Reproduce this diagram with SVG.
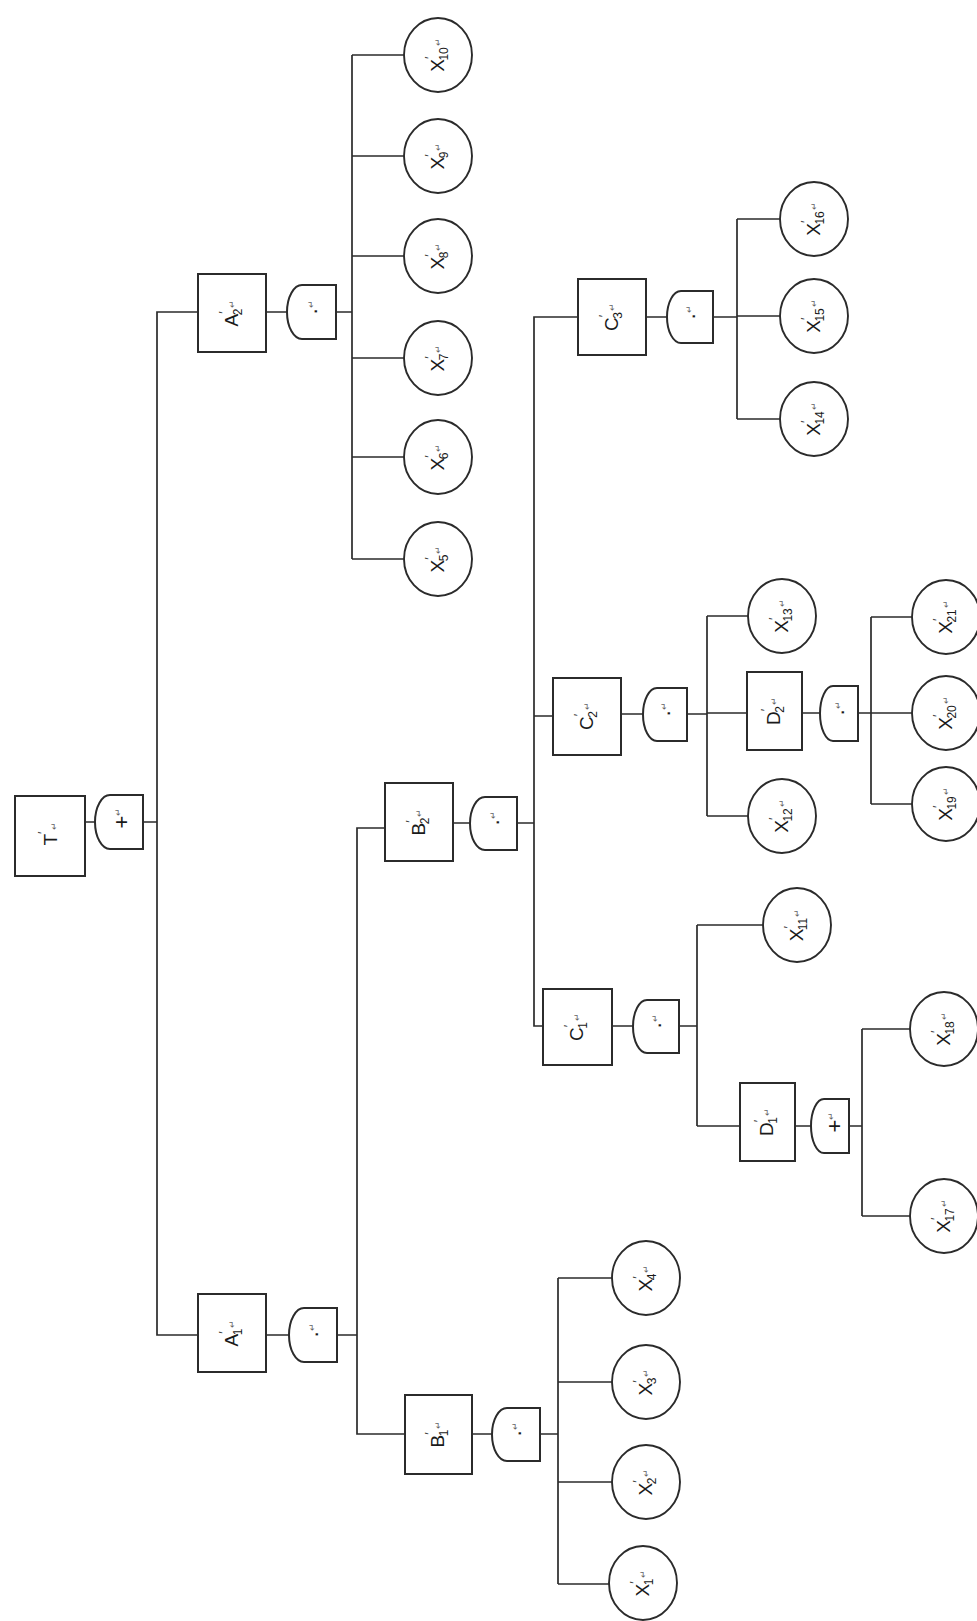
<svg xmlns="http://www.w3.org/2000/svg" width="977" height="1621" viewBox="0 0 977 1621">
<style>
.bg{fill:#ffffff}
.box{fill:#ffffff;stroke:#2b2b2b;stroke-width:2}
.gate{fill:#ffffff;stroke:#2b2b2b;stroke-width:2}
.ev{fill:#ffffff;stroke:#2b2b2b;stroke-width:1.9}
.cn{fill:none;stroke:#2b2b2b;stroke-width:1.7}
.lb{font-family:"Liberation Sans",Arial,sans-serif;font-size:19px;fill:#1a1a1a}
.pr{font-size:13px;fill:#444444}
.sb{font-size:12px}
.rt{font-size:9px;fill:#666666}
.gs{font-family:"Liberation Sans",Arial,sans-serif;font-size:22px;fill:#1a1a1a}
</style>
<rect class="bg" x="0" y="0" width="977" height="1621"/>
<g id="connectors">
<path class="cn" d="M85 822H95M143 822H157"/>
<path class="cn" d="M198 312H157V1335H198"/>
<path class="cn" d="M266 312H287M336 312H352"/>
<path class="cn" d="M352 55V559M352 55H404M352 156H404M352 256H404M352 358H404M352 457H404M352 559H404"/>
<path class="cn" d="M266 1335H289M337 1335H357"/>
<path class="cn" d="M385 828H357V1434H405"/>
<path class="cn" d="M453 823H470M517 823H534"/>
<path class="cn" d="M578 317H534V1026H543M534 716H553"/>
<path class="cn" d="M646 317H667M713 317H737M737 219V419M737 219H780M737 316H780M737 419H780"/>
<path class="cn" d="M621 714H643M687 714H707M707 616V816M707 616H748M707 816H748M707 713H747"/>
<path class="cn" d="M802 713H820M858 713H871M871 617V804M871 617H912M871 713H912M871 804H912"/>
<path class="cn" d="M612 1026H633M679 1026H697M697 925V1126M697 925H763M697 1126H740"/>
<path class="cn" d="M795 1126H811M849 1126H862M862 1029V1216M862 1029H910M862 1216H910"/>
<path class="cn" d="M472 1434H492M540 1434H558M558 1278V1584M558 1278H612M558 1382H612M558 1482H612M558 1584H609"/>
</g>
<g id="T"><rect class="box" x="15" y="796" width="70" height="80"/><text class="lb" text-anchor="middle" transform="translate(50,834) rotate(-90)" y="7">T<tspan class="pr" dy="-10">′</tspan><tspan class="rt" dx="1" dy="10">↵</tspan></text></g>
<g id="G_T"><path class="gate" d="M143 795H110A15 27 0 0 0 110 849H143Z"/><text class="gs" transform="translate(121,822) rotate(-90)" x="-6.5" y="7.5">+<tspan class="rt" dy="-8">↵</tspan></text></g>
<g id="A2"><rect class="box" x="198" y="274" width="68" height="78"/><text class="lb" text-anchor="middle" transform="translate(232,313) rotate(-90)" y="6">A<tspan class="pr" dy="-10">′</tspan><tspan class="sb" dx="-4" dy="14">2</tspan><tspan class="rt" dx="1" dy="-7">↵</tspan></text></g>
<g id="G_A2"><path class="gate" d="M336 285H302A15 27 0 0 0 302 339H336Z"/><text class="gs" transform="translate(314,312) rotate(-90)" x="-3" y="7.5">·<tspan class="rt" dy="-8">↵</tspan></text></g>
<g id="A1"><rect class="box" x="198" y="1294" width="68" height="78"/><text class="lb" text-anchor="middle" transform="translate(232,1333) rotate(-90)" y="6">A<tspan class="pr" dy="-10">′</tspan><tspan class="sb" dx="-4" dy="14">1</tspan><tspan class="rt" dx="1" dy="-7">↵</tspan></text></g>
<g id="G_A1"><path class="gate" d="M337 1308H304A15 27 0 0 0 304 1362H337Z"/><text class="gs" transform="translate(315,1335) rotate(-90)" x="-3" y="7.5">·<tspan class="rt" dy="-8">↵</tspan></text></g>
<g id="B2"><rect class="box" x="385" y="783" width="68" height="78"/><text class="lb" text-anchor="middle" transform="translate(419,822) rotate(-90)" y="6">B<tspan class="pr" dy="-10">′</tspan><tspan class="sb" dx="-4" dy="14">2</tspan><tspan class="rt" dx="1" dy="-7">↵</tspan></text></g>
<g id="G_B2"><path class="gate" d="M517 797H485A15 26.5 0 0 0 485 850H517Z"/><text class="gs" transform="translate(496,823) rotate(-90)" x="-3" y="7.5">·<tspan class="rt" dy="-8">↵</tspan></text></g>
<g id="B1"><rect class="box" x="405" y="1395" width="67" height="79"/><text class="lb" text-anchor="middle" transform="translate(438,1434) rotate(-90)" y="6">B<tspan class="pr" dy="-10">′</tspan><tspan class="sb" dx="-4" dy="14">1</tspan><tspan class="rt" dx="1" dy="-7">↵</tspan></text></g>
<g id="G_B1"><path class="gate" d="M540 1408H507A15 26.5 0 0 0 507 1461H540Z"/><text class="gs" transform="translate(518,1434) rotate(-90)" x="-3" y="7.5">·<tspan class="rt" dy="-8">↵</tspan></text></g>
<g id="C3"><rect class="box" x="578" y="279" width="68" height="76"/><text class="lb" text-anchor="middle" transform="translate(612,317) rotate(-90)" y="6">C<tspan class="pr" dy="-10">′</tspan><tspan class="sb" dx="-4" dy="14">3</tspan><tspan class="rt" dx="1" dy="-7">↵</tspan></text></g>
<g id="G_C3"><path class="gate" d="M713 291H681A14 26 0 0 0 681 343H713Z"/><text class="gs" transform="translate(692,317) rotate(-90)" x="-3" y="7.5">·<tspan class="rt" dy="-8">↵</tspan></text></g>
<g id="C2"><rect class="box" x="553" y="678" width="68" height="77"/><text class="lb" text-anchor="middle" transform="translate(587,716) rotate(-90)" y="6">C<tspan class="pr" dy="-10">′</tspan><tspan class="sb" dx="-4" dy="14">2</tspan><tspan class="rt" dx="1" dy="-7">↵</tspan></text></g>
<g id="G_C2"><path class="gate" d="M687 688H657A14 26.5 0 0 0 657 741H687Z"/><text class="gs" transform="translate(667,714) rotate(-90)" x="-3" y="7.5">·<tspan class="rt" dy="-8">↵</tspan></text></g>
<g id="C1"><rect class="box" x="543" y="989" width="69" height="76"/><text class="lb" text-anchor="middle" transform="translate(577,1027) rotate(-90)" y="6">C<tspan class="pr" dy="-10">′</tspan><tspan class="sb" dx="-4" dy="14">1</tspan><tspan class="rt" dx="1" dy="-7">↵</tspan></text></g>
<g id="G_C1"><path class="gate" d="M679 1000H647A14 26.5 0 0 0 647 1053H679Z"/><text class="gs" transform="translate(658,1026) rotate(-90)" x="-3" y="7.5">·<tspan class="rt" dy="-8">↵</tspan></text></g>
<g id="D2"><rect class="box" x="747" y="672" width="55" height="78"/><text class="lb" text-anchor="middle" transform="translate(774,711) rotate(-90)" y="6">D<tspan class="pr" dy="-10">′</tspan><tspan class="sb" dx="-4" dy="14">2</tspan><tspan class="rt" dx="1" dy="-7">↵</tspan></text></g>
<g id="G_D2"><path class="gate" d="M858 686H833A13 27.5 0 0 0 833 741H858Z"/><text class="gs" transform="translate(841,713) rotate(-90)" x="-3" y="7.5">·<tspan class="rt" dy="-8">↵</tspan></text></g>
<g id="D1"><rect class="box" x="740" y="1083" width="55" height="78"/><text class="lb" text-anchor="middle" transform="translate(767,1122) rotate(-90)" y="6">D<tspan class="pr" dy="-10">′</tspan><tspan class="sb" dx="-4" dy="14">1</tspan><tspan class="rt" dx="1" dy="-7">↵</tspan></text></g>
<g id="G_D1"><path class="gate" d="M849 1099H824A13 27 0 0 0 824 1153H849Z"/><text class="gs" transform="translate(834,1126) rotate(-90)" x="-6.5" y="7.5">+<tspan class="rt" dy="-8">↵</tspan></text></g>
<g id="X10"><ellipse class="ev" cx="438" cy="55" rx="34" ry="37"/><text class="lb" text-anchor="middle" transform="translate(438,55) rotate(-90)" y="6">X<tspan class="pr" dy="-10">′</tspan><tspan class="sb" dx="-4" dy="14">10</tspan><tspan class="rt" dx="1" dy="-7">↵</tspan></text></g>
<g id="X9"><ellipse class="ev" cx="438" cy="156" rx="34" ry="37"/><text class="lb" text-anchor="middle" transform="translate(438,156) rotate(-90)" y="6">X<tspan class="pr" dy="-10">′</tspan><tspan class="sb" dx="-4" dy="14">9</tspan><tspan class="rt" dx="1" dy="-7">↵</tspan></text></g>
<g id="X8"><ellipse class="ev" cx="438" cy="256" rx="34" ry="37"/><text class="lb" text-anchor="middle" transform="translate(438,256) rotate(-90)" y="6">X<tspan class="pr" dy="-10">′</tspan><tspan class="sb" dx="-4" dy="14">8</tspan><tspan class="rt" dx="1" dy="-7">↵</tspan></text></g>
<g id="X7"><ellipse class="ev" cx="438" cy="358" rx="34" ry="37"/><text class="lb" text-anchor="middle" transform="translate(438,358) rotate(-90)" y="6">X<tspan class="pr" dy="-10">′</tspan><tspan class="sb" dx="-4" dy="14">7</tspan><tspan class="rt" dx="1" dy="-7">↵</tspan></text></g>
<g id="X6"><ellipse class="ev" cx="438" cy="457" rx="34" ry="37"/><text class="lb" text-anchor="middle" transform="translate(438,457) rotate(-90)" y="6">X<tspan class="pr" dy="-10">′</tspan><tspan class="sb" dx="-4" dy="14">6</tspan><tspan class="rt" dx="1" dy="-7">↵</tspan></text></g>
<g id="X5"><ellipse class="ev" cx="438" cy="559" rx="34" ry="37"/><text class="lb" text-anchor="middle" transform="translate(438,559) rotate(-90)" y="6">X<tspan class="pr" dy="-10">′</tspan><tspan class="sb" dx="-4" dy="14">5</tspan><tspan class="rt" dx="1" dy="-7">↵</tspan></text></g>
<g id="X16"><ellipse class="ev" cx="814" cy="219" rx="34" ry="37"/><text class="lb" text-anchor="middle" transform="translate(814,219) rotate(-90)" y="6">X<tspan class="pr" dy="-10">′</tspan><tspan class="sb" dx="-4" dy="14">16</tspan><tspan class="rt" dx="1" dy="-7">↵</tspan></text></g>
<g id="X15"><ellipse class="ev" cx="814" cy="316" rx="34" ry="37"/><text class="lb" text-anchor="middle" transform="translate(814,316) rotate(-90)" y="6">X<tspan class="pr" dy="-10">′</tspan><tspan class="sb" dx="-4" dy="14">15</tspan><tspan class="rt" dx="1" dy="-7">↵</tspan></text></g>
<g id="X14"><ellipse class="ev" cx="814" cy="419" rx="34" ry="37"/><text class="lb" text-anchor="middle" transform="translate(814,419) rotate(-90)" y="6">X<tspan class="pr" dy="-10">′</tspan><tspan class="sb" dx="-4" dy="14">14</tspan><tspan class="rt" dx="1" dy="-7">↵</tspan></text></g>
<g id="X13"><ellipse class="ev" cx="782" cy="616" rx="34" ry="37"/><text class="lb" text-anchor="middle" transform="translate(782,616) rotate(-90)" y="6">X<tspan class="pr" dy="-10">′</tspan><tspan class="sb" dx="-4" dy="14">13</tspan><tspan class="rt" dx="1" dy="-7">↵</tspan></text></g>
<g id="X12"><ellipse class="ev" cx="782" cy="816" rx="34" ry="37"/><text class="lb" text-anchor="middle" transform="translate(782,816) rotate(-90)" y="6">X<tspan class="pr" dy="-10">′</tspan><tspan class="sb" dx="-4" dy="14">12</tspan><tspan class="rt" dx="1" dy="-7">↵</tspan></text></g>
<g id="X21"><ellipse class="ev" cx="946" cy="617" rx="34" ry="37"/><text class="lb" text-anchor="middle" transform="translate(946,617) rotate(-90)" y="6">X<tspan class="pr" dy="-10">′</tspan><tspan class="sb" dx="-4" dy="14">21</tspan><tspan class="rt" dx="1" dy="-7">↵</tspan></text></g>
<g id="X20"><ellipse class="ev" cx="946" cy="713" rx="34" ry="37"/><text class="lb" text-anchor="middle" transform="translate(946,713) rotate(-90)" y="6">X<tspan class="pr" dy="-10">′</tspan><tspan class="sb" dx="-4" dy="14">20</tspan><tspan class="rt" dx="1" dy="-7">↵</tspan></text></g>
<g id="X19"><ellipse class="ev" cx="946" cy="804" rx="34" ry="37"/><text class="lb" text-anchor="middle" transform="translate(946,804) rotate(-90)" y="6">X<tspan class="pr" dy="-10">′</tspan><tspan class="sb" dx="-4" dy="14">19</tspan><tspan class="rt" dx="1" dy="-7">↵</tspan></text></g>
<g id="X11"><ellipse class="ev" cx="797" cy="925" rx="34" ry="37"/><text class="lb" text-anchor="middle" transform="translate(797,925) rotate(-90)" y="6">X<tspan class="pr" dy="-10">′</tspan><tspan class="sb" dx="-4" dy="14">11</tspan><tspan class="rt" dx="1" dy="-7">↵</tspan></text></g>
<g id="X18"><ellipse class="ev" cx="944" cy="1029" rx="34" ry="37"/><text class="lb" text-anchor="middle" transform="translate(944,1029) rotate(-90)" y="6">X<tspan class="pr" dy="-10">′</tspan><tspan class="sb" dx="-4" dy="14">18</tspan><tspan class="rt" dx="1" dy="-7">↵</tspan></text></g>
<g id="X17"><ellipse class="ev" cx="944" cy="1216" rx="34" ry="37"/><text class="lb" text-anchor="middle" transform="translate(944,1216) rotate(-90)" y="6">X<tspan class="pr" dy="-10">′</tspan><tspan class="sb" dx="-4" dy="14">17</tspan><tspan class="rt" dx="1" dy="-7">↵</tspan></text></g>
<g id="X4"><ellipse class="ev" cx="646" cy="1278" rx="34" ry="37"/><text class="lb" text-anchor="middle" transform="translate(646,1278) rotate(-90)" y="6">X<tspan class="pr" dy="-10">′</tspan><tspan class="sb" dx="-4" dy="14">4</tspan><tspan class="rt" dx="1" dy="-7">↵</tspan></text></g>
<g id="X3"><ellipse class="ev" cx="646" cy="1382" rx="34" ry="37"/><text class="lb" text-anchor="middle" transform="translate(646,1382) rotate(-90)" y="6">X<tspan class="pr" dy="-10">′</tspan><tspan class="sb" dx="-4" dy="14">3</tspan><tspan class="rt" dx="1" dy="-7">↵</tspan></text></g>
<g id="X2"><ellipse class="ev" cx="646" cy="1482" rx="34" ry="37"/><text class="lb" text-anchor="middle" transform="translate(646,1482) rotate(-90)" y="6">X<tspan class="pr" dy="-10">′</tspan><tspan class="sb" dx="-4" dy="14">2</tspan><tspan class="rt" dx="1" dy="-7">↵</tspan></text></g>
<g id="X1"><ellipse class="ev" cx="643" cy="1583" rx="34" ry="37"/><text class="lb" text-anchor="middle" transform="translate(643,1583) rotate(-90)" y="6">X<tspan class="pr" dy="-10">′</tspan><tspan class="sb" dx="-4" dy="14">1</tspan><tspan class="rt" dx="1" dy="-7">↵</tspan></text></g>
</svg>
